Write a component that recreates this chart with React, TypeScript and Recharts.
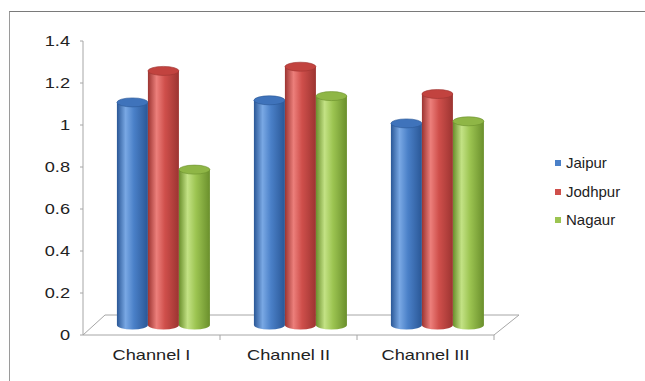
import { BarChart, Bar, XAxis, YAxis, CartesianGrid } from 'recharts';

const channels = ['Channel I', 'Channel II', 'Channel III'];
const jaipur = [1.06, 1.07, 0.96];
const jodhpur = [1.21, 1.23, 1.1];
const nagaur = [0.74, 1.09, 0.97];
const yTicks = [0, 0.2, 0.4, 0.6, 0.8, 1, 1.2, 1.4];

const seriesList = [
  { key: 'jaipur', name: 'Jaipur', dark: '#2a5796', base: '#4a80c8', light: '#79a8e4', top: '#3f73bb' },
  { key: 'jodhpur', name: 'Jodhpur', dark: '#9c3431', base: '#cf4f4b', light: '#ec7f7b', top: '#c2433f' },
  { key: 'nagaur', name: 'Nagaur', dark: '#6a8f2c', base: '#9cc451', light: '#c3e285', top: '#8fb646' },
];

const data = channels.map((c, i) => ({
  channel: c,
  jaipur: jaipur[i],
  jodhpur: jodhpur[i],
  nagaur: nagaur[i],
}));

const FONT = '"Liberation Sans", Arial, sans-serif';
// the source picture is stretched sideways, so the labels are too
const STRETCH = 1.3;

// depth of the 3d floor, bars sit half way back
const DEPTH_X = 24;
const DEPTH_Y = 20;

const makeCylinder = (s: typeof seriesList[number]) => (props: any) => {
  const { x, y, width, height, index } = props;
  if (width == null || height == null) return null;
  const X = x + DEPTH_X / 2;
  const top = y - DEPTH_Y / 2;
  const bottom = y + height - DEPTH_Y / 2;
  const rx = width / 2;
  const ry = 4.5;
  const id = `cyl-${s.key}-${index}`;
  return (
    <g>
      <defs>
        <linearGradient id={id} x1="0" y1="0" x2="1" y2="0">
          <stop offset="0%" stopColor={s.dark} />
          <stop offset="28%" stopColor={s.light} />
          <stop offset="55%" stopColor={s.base} />
          <stop offset="100%" stopColor={s.dark} />
        </linearGradient>
      </defs>
      <path
        d={`M${X},${top} L${X},${bottom} A${rx},${ry} 0 0 0 ${X + width},${bottom} L${X + width},${top} Z`}
        fill={`url(#${id})`}
      />
      <ellipse cx={X + rx} cy={top} rx={rx} ry={ry} fill={s.top} stroke={s.dark} strokeWidth={0.6} />
    </g>
  );
};

const Floor = (props: any) => {
  const { x1, x2, y1 } = props;
  if (y1 == null) return null;
  const bx1 = x1 + DEPTH_X - 2;
  const bx2 = x2 + DEPTH_X + 1;
  const by = y1 - DEPTH_Y;
  const step = (x2 - x1) / channels.length;
  const ticks = channels.map((_, i) => x1 + step * (i + 1));
  return (
    <g>
      <path d={`M${x1},${y1} L${bx1},${by} L${bx2},${by} L${x2},${y1}`} fill="none" stroke="#a6a6a6" strokeWidth={1} />
      {ticks.map((t, i) => (
        <line key={i} x1={t} y1={y1} x2={t} y2={y1 + 5} stroke="#a6a6a6" />
      ))}
    </g>
  );
};

const XTick = (props: any) => {
  const { x, y, payload } = props;
  return (
    <g transform={`translate(${x},${y}) scale(${STRETCH},1)`}>
      <text x={0} y={0} dy="0.71em" textAnchor="middle" fill="#222" fontSize={14} fontFamily={FONT}>
        {payload.value}
      </text>
    </g>
  );
};

const YTick = (props: any) => {
  const { x, y, payload } = props;
  return (
    <g transform={`translate(${x},${y}) scale(${STRETCH},1)`}>
      <text x={0} y={0} dy="0.355em" textAnchor="end" fill="#222" fontSize={14} fontFamily={FONT}>
        {payload.value}
      </text>
    </g>
  );
};

export default function App() {
  return (
    <div style={{ position: 'relative', width: 645, height: 381, background: '#fff', fontFamily: FONT }}>
      <style>{'body{margin:0;}'}</style>
      <div style={{ position: 'absolute', left: 9, top: 11, right: 0, bottom: 0, borderTop: '1.5px solid #7a7a7a', borderLeft: '1.5px solid #9a9a9a' }} />
      <BarChart
        width={645}
        height={381}
        data={data}
        margin={{ top: 41, right: 151, bottom: 16, left: 0 }}
        barCategoryGap="16%"
        barGap={0}
        style={{ position: 'absolute', left: 0, top: 0 }}
      >
        <CartesianGrid vertical={false} horizontalValues={[0]} horizontal={(p: any) => <Floor key="floor" {...p} />} stroke="none" />
        <XAxis
          dataKey="channel"
          height={30}
          tickLine={false}
          tickSize={6}
          tickMargin={9}
          axisLine={{ stroke: '#a6a6a6' }}
          tick={<XTick />}
        />
        <YAxis
          width={83}
          domain={[0, 1.4]}
          ticks={yTicks}
          tickSize={3}
          tickMargin={10}
          axisLine={{ stroke: '#a6a6a6' }}
          tickLine={{ stroke: '#a6a6a6' }}
          tick={<YTick />}
        />
        {seriesList.map((s) => (
          <Bar key={s.key} dataKey={s.key} name={s.name} isAnimationActive={false} shape={makeCylinder(s)} />
        ))}
      </BarChart>
      <div style={{ position: 'absolute', left: 555, top: 149, fontSize: 15, color: '#222', lineHeight: '28.5px' }}>
        {seriesList.map((s) => (
          <div key={s.key} style={{ display: 'flex', alignItems: 'center' }}>
            <span style={{ display: 'inline-block', width: 6, height: 6, background: s.base, marginRight: 5 }} />
            {s.name}
          </div>
        ))}
      </div>
    </div>
  );
}
